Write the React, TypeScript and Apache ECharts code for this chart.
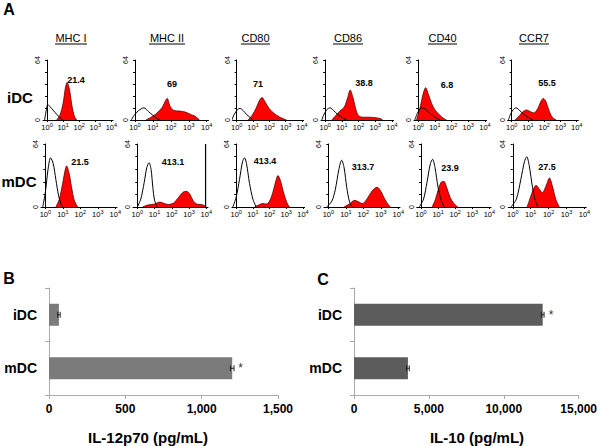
import React, { useEffect, useRef } from "react";
import * as echarts from "echarts";

// ---------- Panel A data ----------
const markers = ["MHC I", "MHC II", "CD80", "CD86", "CD40", "CCR7"];
const rowLabels = ["iDC", "mDC"];
const mfiIDC = ["21.4", "69", "71", "38.8", "6.8", "55.5"];
const mfiMDC = ["21.5", "413.1", "413.4", "313.7", "23.9", "27.5"];
const decadeValues = [0, 1, 2, 3, 4];
const decadeExponents = ["0", "1", "2", "3", "4"];
const countMax = 64;

// [log10 fluorescence, count] — isotype (black outline) and stained (red fill)
const isoMHCI_iDC = [[-0.15, 0], [-0.05, 10], [0.05, 16.5], [0.2, 14], [0.4, 10], [0.6, 6], [0.8, 2.5], [1.0, 0]];
const posMHCI_iDC = [[0.6, 0], [0.8, 5], [1.0, 18], [1.15, 35], [1.25, 40], [1.4, 32], [1.55, 15], [1.7, 4], [1.85, 0]];
const isoMHCII_iDC = [[-0.2, 0], [-0.05, 5], [0.2, 10], [0.5, 13], [0.75, 9], [1.0, 5], [1.2, 2], [1.4, 0]];
const posMHCII_iDC = [[0.6, 0], [0.9, 3], [1.2, 7], [1.5, 13], [1.8, 23], [1.95, 15], [2.15, 10.5], [2.5, 9.5], [2.8, 8.5], [3.1, 6], [3.35, 4], [3.6, 0]];
const isoCD80_iDC = [[-0.3, 0], [-0.15, 6], [0.05, 11], [0.2, 12.5], [0.4, 10], [0.6, 6], [0.8, 3], [1.0, 0]];
const posCD80_iDC = [[0.7, 0], [0.95, 5], [1.2, 13], [1.4, 21], [1.55, 24], [1.75, 19], [2.0, 12], [2.3, 7], [2.6, 3.5], [2.9, 1], [3.05, 0]];
const isoCD86_iDC = [[-0.2, 0], [-0.1, 5], [0.1, 11], [0.3, 13], [0.5, 10], [0.75, 6], [1.0, 3], [1.3, 0]];
const posCD86_iDC = [[0.4, 0], [0.65, 5], [0.9, 10], [1.15, 14], [1.35, 24], [1.5, 32], [1.65, 25], [1.8, 14], [1.95, 6], [2.2, 3], [2.6, 3], [3.0, 2.5], [3.3, 1.5], [3.45, 0]];
const isoCD40_iDC = [[-0.2, 0], [-0.05, 7], [0.2, 13], [0.4, 12], [0.6, 9], [0.85, 5], [1.1, 2], [1.3, 0]];
const posCD40_iDC = [[-0.1, 0], [0.1, 12], [0.3, 28], [0.45, 34.5], [0.6, 28], [0.8, 18], [1.0, 11], [1.25, 6], [1.5, 2], [1.7, 0]];
const isoCCR7_iDC = [[-0.2, 0], [-0.05, 7], [0.1, 11], [0.27, 13], [0.5, 10], [0.75, 6], [1.0, 3], [1.3, 0]];
const posCCR7_iDC = [[0.2, 0], [0.45, 4], [0.7, 9], [0.92, 10.7], [1.15, 9], [1.35, 7.5], [1.6, 12], [1.8, 20], [1.95, 23], [2.1, 20], [2.3, 10], [2.5, 3], [2.75, 0]];

const isoMHCI_mDC = [[-0.15, 0], [0.0, 15], [0.15, 38], [0.3, 50], [0.45, 44], [0.6, 28], [0.75, 12], [0.9, 3], [1.0, 0]];
const posMHCI_mDC = [[0.6, 0], [0.8, 8], [1.0, 25], [1.15, 39], [1.22, 41.7], [1.35, 35], [1.5, 20], [1.65, 7], [1.85, 0]];
const isoMHCII_mDC = [[0.0, 0], [0.2, 8], [0.4, 25], [0.55, 40], [0.68, 45], [0.8, 38], [0.9, 20], [1.0, 7], [1.15, 0]];
const posMHCII_mDC = [[0.3, 0], [0.6, 2], [1.0, 3], [1.3, 5], [1.5, 4], [1.8, 2.5], [2.1, 4], [2.4, 10], [2.65, 15], [2.85, 16], [3.05, 13], [3.25, 6], [3.45, 3], [3.7, 2.5], [3.9, 1.5], [4.0, 0]];
const spikeMHCII_mDC = [[3.96, 0], [3.96, 64]];
const isoCD80_mDC = [[-0.2, 0], [0.0, 10], [0.2, 28], [0.38, 46], [0.5, 50], [0.62, 44], [0.8, 24], [1.0, 8], [1.2, 0]];
const posCD80_mDC = [[1.1, 0], [1.4, 2.5], [1.6, 3.5], [1.8, 3], [2.0, 6], [2.2, 15], [2.4, 28], [2.5, 32], [2.65, 27], [2.85, 14], [3.05, 4], [3.2, 0]];
const isoCD86_mDC = [[-0.1, 0], [0.2, 6], [0.4, 18], [0.6, 38], [0.76, 47.5], [0.9, 40], [1.05, 20], [1.2, 6], [1.35, 0]];
const posCD86_mDC = [[0.9, 0], [1.2, 3], [1.5, 6.8], [1.7, 5.5], [1.95, 3.5], [2.2, 8], [2.45, 15], [2.65, 19], [2.8, 20], [3.0, 16], [3.2, 9], [3.4, 3], [3.55, 0]];
const isoCD40_mDC = [[-0.1, 0], [0.15, 8], [0.35, 25], [0.55, 44], [0.68, 48.5], [0.82, 40], [1.0, 20], [1.2, 6], [1.36, 0]];
const posCD40_mDC = [[0.65, 0], [0.85, 8], [1.05, 20], [1.2, 25.5], [1.35, 26], [1.5, 20], [1.7, 10], [1.9, 4], [2.15, 0]];
const isoCCR7_mDC = [[-0.1, 0], [0.2, 8], [0.45, 28], [0.65, 46], [0.78, 51], [0.92, 42], [1.1, 20], [1.25, 7], [1.4, 0]];
const posCCR7_mDC = [[0.8, 0], [0.95, 8], [1.15, 18], [1.3, 22], [1.45, 19], [1.65, 14.5], [1.85, 21], [2.05, 29.5], [2.2, 22], [2.4, 8], [2.6, 0]];

const isoIDC = [isoMHCI_iDC, isoMHCII_iDC, isoCD80_iDC, isoCD86_iDC, isoCD40_iDC, isoCCR7_iDC];
const posIDC = [posMHCI_iDC, posMHCII_iDC, posCD80_iDC, posCD86_iDC, posCD40_iDC, posCCR7_iDC];
const isoMDC = [isoMHCI_mDC, isoMHCII_mDC, isoCD80_mDC, isoCD86_mDC, isoCD40_mDC, isoCCR7_mDC];
const posMDC = [posMHCI_mDC, posMHCII_mDC, posCD80_mDC, posCD86_mDC, posCD40_mDC, posCCR7_mDC];

// ---------- Panels B & C data ----------
const cytoCategories = ["iDC", "mDC"];
const il12Values = [65, 1200];
const il12Errors = [8, 12];
const il12Sig = ["", "*"];
const il12Ticks = { min: 0, max: 1500, interval: 500 };
const il10Values = [12600, 3600];
const il10Errors = [90, 90];
const il10Sig = ["*", ""];
const il10Ticks = { min: 0, max: 15000, interval: 5000 };

// ---------- layout ----------
const FONT = "Liberation Sans, Arial, sans-serif";
const row1 = { top: 60, height: 60, cells: [[43, 70], [130.5, 78], [232.6, 71], [321, 72.6], [414, 72.6], [507.6, 70.7]] };
const row2 = { top: 144, height: 63, cells: [[41, 76], [133, 75], [232, 72.6], [324, 76], [416.7, 74.4], [508.3, 77.9]] };
const titleX = [71, 167, 255.5, 348, 442.5, 534];
const titleHalfW = [16, 18, 14.5, 15, 14.5, 15];
const mfiPos1 = [[76, 80], [172, 84], [258, 84], [364, 83], [447, 85], [547, 83]];
const mfiPos2 = [[80, 162], [173, 162], [265, 161], [363, 167], [450, 168], [547, 167]];

export default function App() {
  const ref = useRef<HTMLDivElement>(null);
  useEffect(() => {
    if (!ref.current) return;
    const chart = echarts.init(ref.current, null, { renderer: "svg" });

    const grids: any[] = [];
    const xAxes: any[] = [];
    const yAxes: any[] = [];
    const series: any[] = [];

    const addHisto = (row: any, c: number, iso: number[][], pos: number[][], extra?: number[][]) => {
      const gi = grids.length;
      grids.push({ left: row.cells[c][0], width: row.cells[c][1], top: row.top, height: row.height });
      xAxes.push({
        type: "value", gridIndex: gi, min: -0.25, max: 4.1,
        axisLine: { show: true, onZero: false, lineStyle: { color: "#000", width: 1 } },
        axisTick: { show: true, customValues: decadeValues, length: 2, lineStyle: { color: "#000" } },
        axisLabel: {
          show: true, customValues: decadeValues, margin: 2, color: "#000", fontFamily: FONT,
          formatter: (v: number) => `{b|10}{s|${decadeExponents[Math.round(v)] ?? ""}}`,
          rich: {
            b: { fontSize: 7.5, fontFamily: FONT, color: "#000" },
            s: { fontSize: 5.5, fontFamily: FONT, color: "#000", padding: [0, 0, 4, 0] },
          },
        },
        splitLine: { show: false },
      });
      yAxes.push({
        type: "value", gridIndex: gi, min: 0, max: countMax, interval: countMax / 5,
        axisLine: { show: true, lineStyle: { color: "#000", width: 1 } },
        axisTick: { show: true, length: 2, lineStyle: { color: "#000" } },
        axisLabel: {
          show: true, rotate: 90, fontSize: 7, margin: 2, color: "#000", fontFamily: FONT,
          formatter: (v: number) => (Math.round(v) === 0 || Math.round(v) === countMax ? String(Math.round(v)) : ""),
        },
        splitLine: { show: false },
      });
      series.push({
        type: "line", xAxisIndex: gi, yAxisIndex: gi, data: pos, smooth: 0.3, showSymbol: false,
        lineStyle: { color: "#5a0000", width: 0.8 }, areaStyle: { color: "#ff0000", opacity: 1 }, z: 2,
      });
      series.push({
        type: "line", xAxisIndex: gi, yAxisIndex: gi, data: iso, smooth: 0.3, showSymbol: false,
        lineStyle: { color: "#000", width: 1 }, z: 3,
      });
      if (extra) {
        series.push({
          type: "line", xAxisIndex: gi, yAxisIndex: gi, data: extra, showSymbol: false,
          lineStyle: { color: "#000", width: 1.2 }, z: 3,
        });
      }
    };

    for (let c = 0; c < 6; c++) addHisto(row1, c, isoIDC[c], posIDC[c]);
    for (let c = 0; c < 6; c++) addHisto(row2, c, isoMDC[c], posMDC[c], c === 1 ? spikeMHCII_mDC : undefined);

    const addBar = (left: number, values: number[], errors: number[], sig: string[], ticks: any, color: string) => {
      const gi = grids.length;
      grids.push({ left, width: 229, top: 288, height: 107 });
      xAxes.push({
        type: "value", gridIndex: gi, min: ticks.min, max: ticks.max, interval: ticks.interval,
        axisLine: { show: true, lineStyle: { color: "#aaa" } },
        axisTick: { show: true, length: 4, lineStyle: { color: "#aaa" } },
        axisLabel: { formatter: (v: number) => v.toLocaleString("en-US"), fontSize: 12, fontWeight: "bold", color: "#000", margin: 8, fontFamily: FONT },
        splitLine: { show: false },
      });
      yAxes.push({
        type: "category", gridIndex: gi, data: cytoCategories, inverse: true,
        axisLine: { show: true, lineStyle: { color: "#aaa" } },
        axisTick: { show: true, length: 4, lineStyle: { color: "#aaa" } },
        axisLabel: { fontSize: 14, fontWeight: "bold", color: "#000", margin: 12, fontFamily: FONT },
      });
      series.push({
        type: "bar", xAxisIndex: gi, yAxisIndex: gi, barWidth: 22,
        itemStyle: { color },
        data: values.map((v, i) => ({
          value: v,
          label: { show: sig[i] !== "", position: "right", distance: 6, formatter: sig[i], fontSize: 12, color: "#333", fontFamily: FONT },
        })),
      });
      series.push({
        type: "custom", xAxisIndex: gi, yAxisIndex: gi, z: 5,
        encode: { x: 0, y: 1 },
        data: values.map((v, i) => [v, i, errors[i]]),
        renderItem: (params: any, api: any) => {
          const v = api.value(0), cat = api.value(1), e = api.value(2);
          const a = api.coord([v - e, cat]);
          const b = api.coord([v + e, cat]);
          const st = { stroke: "#222", lineWidth: 1 };
          return {
            type: "group",
            children: [
              { type: "line", shape: { x1: a[0], y1: a[1], x2: b[0], y2: b[1] }, style: st },
              { type: "line", shape: { x1: b[0], y1: b[1] - 3, x2: b[0], y2: b[1] + 3 }, style: st },
              { type: "line", shape: { x1: a[0], y1: a[1] - 3, x2: a[0], y2: a[1] + 3 }, style: st },
            ],
          };
        },
      });
    };
    addBar(49, il12Values, il12Errors, il12Sig, il12Ticks, "#7b7b7b");
    addBar(354, il10Values, il10Errors, il10Sig, il10Ticks, "#5c5c5c");

    const txt = (text: string, x: number, y: number, font: string, align = "center") => ({
      type: "text", x, y, silent: true,
      style: { text, fill: "#000", font, align, verticalAlign: "middle" },
    });
    const graphics: any[] = [
      txt("A", 9, 9, `bold 16px ${FONT}`),
      txt("B", 9, 278, `bold 16px ${FONT}`),
      txt("C", 323, 279, `bold 16px ${FONT}`),
      txt(rowLabels[0], 20, 97, `bold 15px ${FONT}`),
      txt(rowLabels[1], 19, 181, `bold 15px ${FONT}`),
      txt("IL-12p70 (pg/mL)", 148, 437, `bold 15px ${FONT}`),
      txt("IL-10 (pg/mL)", 477, 437, `bold 15px ${FONT}`),
    ];
    markers.forEach((m, i) => {
      graphics.push(txt(m, titleX[i], 38, `11px ${FONT}`));
      graphics.push({
        type: "line", silent: true,
        shape: { x1: titleX[i] - titleHalfW[i], y1: 44, x2: titleX[i] + titleHalfW[i], y2: 44 },
        style: { stroke: "#000", lineWidth: 1 },
      });
      graphics.push(txt(mfiIDC[i], mfiPos1[i][0], mfiPos1[i][1], `bold 9px ${FONT}`));
      graphics.push(txt(mfiMDC[i], mfiPos2[i][0], mfiPos2[i][1], `bold 9px ${FONT}`));
    });

    chart.setOption({
      animation: false,
      backgroundColor: "#fff",
      textStyle: { fontFamily: FONT },
      grid: grids,
      xAxis: xAxes,
      yAxis: yAxes,
      series,
      graphic: graphics,
    });
    return () => chart.dispose();
  }, []);
  return <div ref={ref} style={{ position: "absolute", left: 0, top: 0, width: 600, height: 446 }} />;
}
